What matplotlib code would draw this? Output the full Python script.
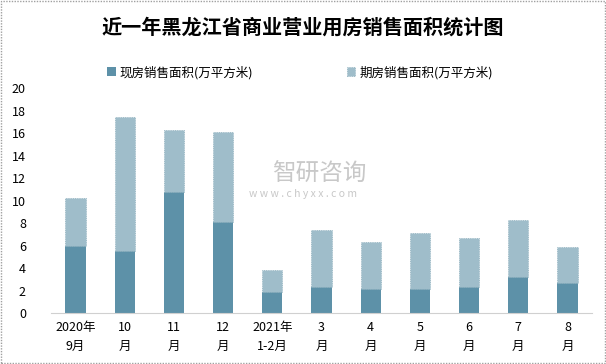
import numpy as np
import matplotlib.pyplot as plt

plt.rcParams['font.family'] = ['Noto Sans CJK SC', 'DejaVu Sans']

# 数据
meses = ['2020年\n9月', '10\n月', '11\n月', '12\n月', '2021年\n1-2月', '3\n月', '4\n月',
         '5\n月', '6\n月', '7\n月', '8\n月']
total = [10.25, 17.45, 16.3, 16.1, 3.85, 7.4, 6.34, 7.14, 6.69, 8.29, 5.9]
xianfang = [6.0, 5.54, 10.78, 8.1, 1.9, 2.34, 2.16, 2.16, 2.34, 3.23, 2.69]
qifang = [t - x for t, x in zip(total, xianfang)]

cor_escura = '#5d91a8'
cor_clara = '#9fbdca'

fig = plt.figure(figsize=(6.06, 3.64), dpi=100)
ax = fig.add_axes([0.084, 0.14, 0.893, 0.618])

x = np.arange(len(meses))
ax.bar(x, xianfang, width=0.41, color=cor_escura, label='现房销售面积(万平方米)', zorder=2)
ax.bar(x, qifang, width=0.41, bottom=xianfang, color=cor_clara,
       edgecolor='#8fb0bd', linewidth=0.6, linestyle=':', label='期房销售面积(万平方米)', zorder=2)

ax.set_xlim(-0.5, 10.5)
ax.set_ylim(0, 20)
ax.set_yticks(np.arange(0, 21, 2))
ax.set_xticks(x)
ax.set_xticklabels(meses, fontsize=9, linespacing=1.6)
ax.tick_params(axis='both', length=0, labelsize=9)
ax.tick_params(axis='y', pad=18)
ax.tick_params(axis='x', pad=6)
for s in ['top', 'right', 'left']:
    ax.spines[s].set_visible(False)
ax.spines['bottom'].set_color('#d0d0d0')

# título e legenda
fig.text(0.5, 0.926, '近一年黑龙江省商业营业用房销售面积统计图', ha='center', va='center',
         fontsize=14.5, fontweight='bold')
ax.legend(loc='center', bbox_to_anchor=(0.46, 1.07), ncol=2, frameon=False,
          fontsize=9, handlelength=0.7, handleheight=0.7, handletextpad=0.3, columnspacing=7.5)

# marca d'água
fig.text(0.527, 0.52, '智研咨询', ha='center', va='center', fontsize=17, color='#c8c8c8', zorder=3)
fig.text(0.5, 0.467, 'w w w . c h y x x . c o m', ha='center', va='center', fontsize=7.5,
         color='#c8c8c8', zorder=3)

# borda
fig.patches.append(plt.Rectangle((0.002, 0.003), 0.996, 0.994, transform=fig.transFigure,
                                 fill=False, edgecolor='#a0a0a0', linewidth=1, linestyle=(0, (1, 1))))

fig.savefig('out.png', dpi=100)
